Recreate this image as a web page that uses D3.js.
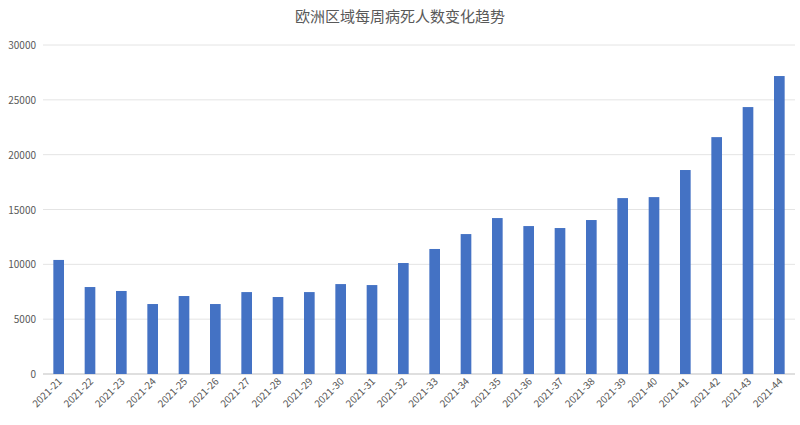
<!DOCTYPE html>
<html><head><meta charset="utf-8">
<script src="https://cdn.jsdelivr.net/npm/d3@7/dist/d3.min.js"></script>
<style>body{margin:0;background:#fff}</style></head>
<body><svg id="c" width="800" height="425"></svg>
<script>
const categories = ["2021-21","2021-22","2021-23","2021-24","2021-25","2021-26","2021-27","2021-28","2021-29","2021-30","2021-31","2021-32","2021-33","2021-34","2021-35","2021-36","2021-37","2021-38","2021-39","2021-40","2021-41","2021-42","2021-43","2021-44"];
const values = [10400,7930,7570,6380,7110,6380,7470,7020,7470,8200,8110,10120,11400,12760,14220,13490,13310,14040,16040,16130,18600,21600,24340,27170];
const yTicks = [0,5000,10000,15000,20000,25000,30000];
const title = "欧洲区域每周病死人数变化趋势";

const svg = d3.select("#c");
const font = "'Noto Sans CJK SC', sans-serif";
const x = d3.scaleBand().domain(categories).range([43,795]).paddingInner(0.66).paddingOuter(0.33);
const y = d3.scaleLinear().domain([0,30000]).range([374,45]);

svg.append("text").attr("x",400).attr("y",22).attr("text-anchor","middle")
  .attr("font-family",font).attr("font-size",15).attr("fill","#595959").text(title);

svg.selectAll(".g").data(yTicks).enter().append("line")
  .attr("x1",43).attr("x2",795).attr("y1",d=>y(d)).attr("y2",d=>y(d))
  .attr("stroke",d=>d===0?"#bfbfbf":"#e4e4e4").attr("stroke-width",1);
svg.selectAll(".yl").data(yTicks).enter().append("text")
  .attr("x",36).attr("y",d=>y(d)+4).attr("text-anchor","end")
  .attr("font-family",font).attr("font-size",10).attr("fill","#595959").text(d=>d);

svg.selectAll(".b").data(values).enter().append("rect")
  .attr("x",(d,i)=>x(categories[i])).attr("width",x.bandwidth())
  .attr("y",d=>y(d)).attr("height",d=>y(0)-y(d)).attr("fill","#4472c4");

svg.selectAll(".xl").data(categories).enter().append("text")
  .attr("transform",d=>`translate(${x(d)+x.bandwidth()/2+4},${382}) rotate(-45)`)
  .attr("text-anchor","end").attr("font-family",font).attr("font-size",10)
  .attr("fill","#595959").text(d=>d);
</script></body></html>
